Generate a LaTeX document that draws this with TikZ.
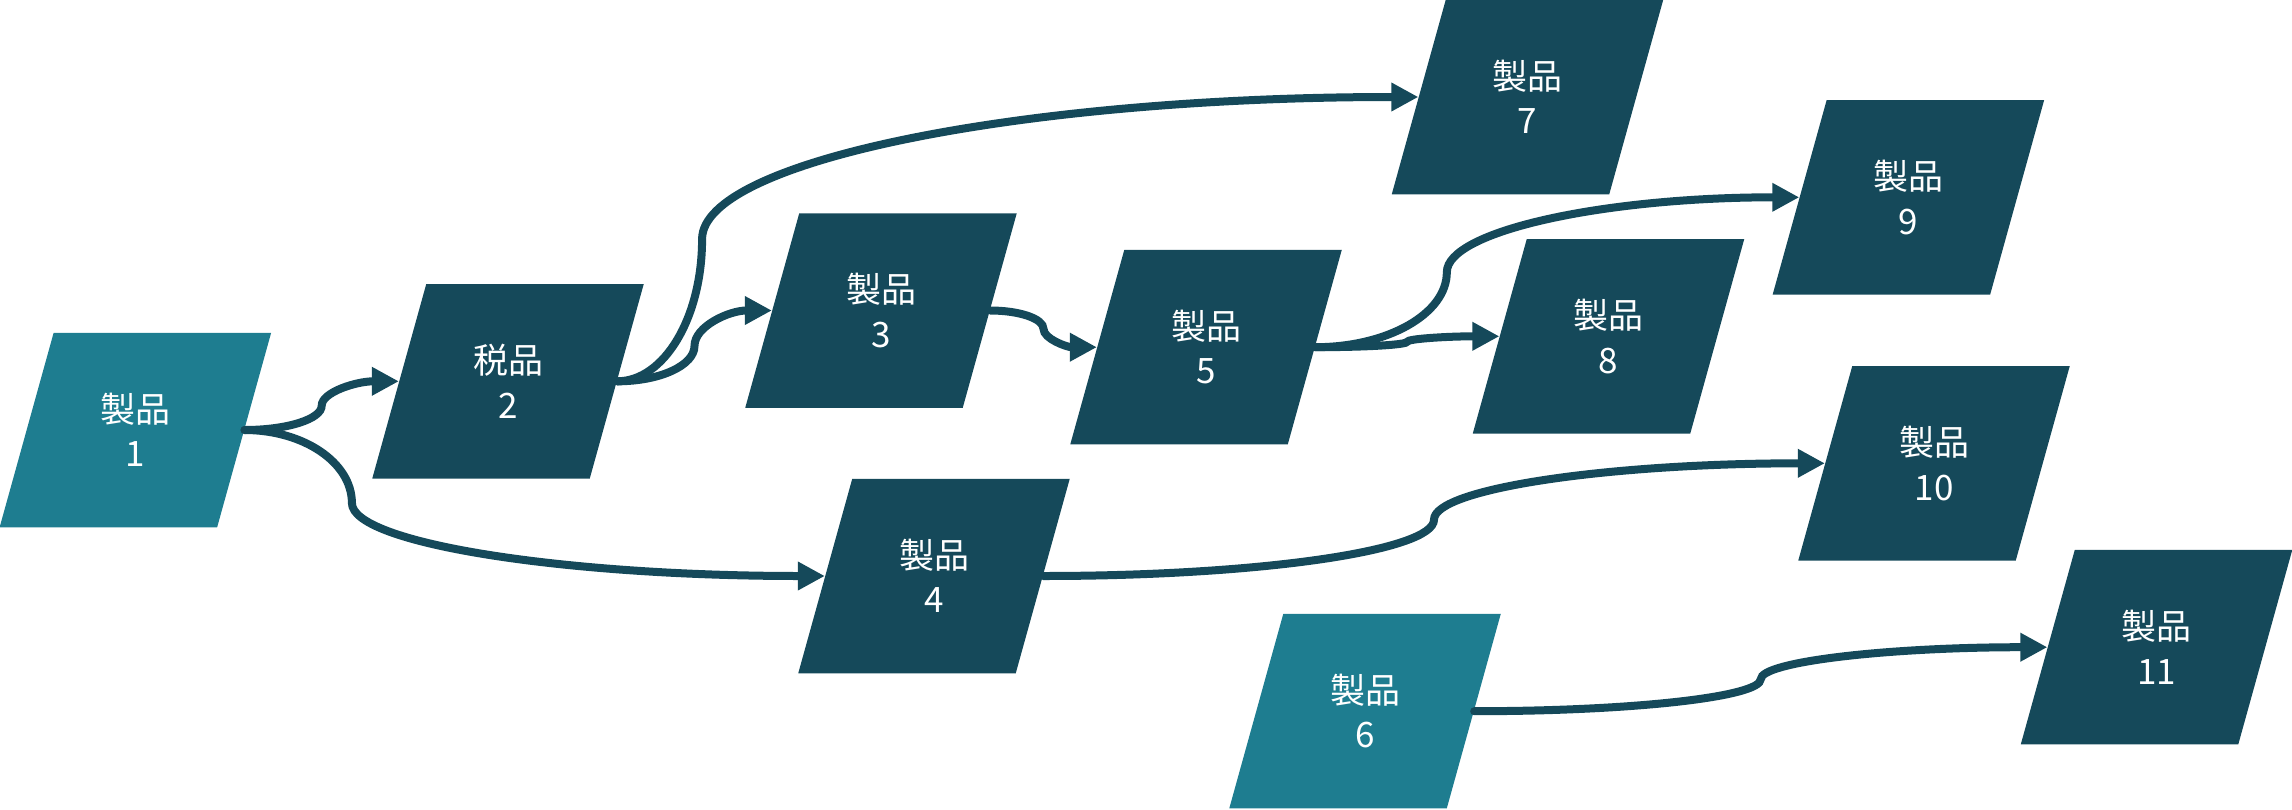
\documentclass[tikz,border=0pt]{standalone}
\usepackage{fontspec}
\newfontfamily\jpfont{Noto Sans CJK JP}
\usetikzlibrary{arrows.meta,calc}
\definecolor{pdark}{HTML}{15495A}
\definecolor{plight}{HTML}{1E7D90}
\tikzset{
  lbl/.style={inner sep=0pt, minimum width=108.75pt, text=white, align=center,
    font=\jpfont\fontsize{17.5pt}{22.25pt}\selectfont},
  conn/.style={draw=pdark, line width=4pt, line cap=round,
    -{Triangle[length=13.5pt,width=13.5pt]}},
}
\newcommand\prodnode[5]{%
  \fill[#4] (#2,#3) ++(-135.75,97.25) -- ++(217.5,0) -- ++(54,-194.5) -- ++(-217.5,0) -- cycle;
  \node[lbl] (#1) at (#2,#3) {#5};
}
\newcommand\flowline[3]{%
  \draw[conn] let \p1=(#1.east), \p2=(#2.west), \n1={#3},
    \p3=({\x1+\n1*(\x2-\x1)},{0.5*(\y1+\y2)}) in
    (\p1) .. controls ({\x1+0.5523*(\x3-\x1)},\y1) and (\x3,{\y3+0.5523*(\y1-\y3)}) .. (\p3)
    .. controls (\x3,{\y3+0.5523*(\y2-\y3)}) and ({\x2-0.5523*(\x2-\x3)},\y2) .. (\p2);
}
\begin{document}
\begin{tikzpicture}[x=0.5pt,y=-0.5pt]
\useasboundingbox (0,0) rectangle (2292,809);
\clip (0,0) rectangle (2292,809);
\prodnode{n1}{135.4}{430}{plight}{製品\\1}
\prodnode{n2}{508}{381.3}{pdark}{税品\\2}
\prodnode{n3}{881}{310.5}{pdark}{製品\\3}
\prodnode{n4}{934}{576}{pdark}{製品\\4}
\prodnode{n5}{1206}{347.2}{pdark}{製品\\5}
\prodnode{n6}{1365}{711.2}{plight}{製品\\6}
\prodnode{n7}{1527.5}{97}{pdark}{製品\\7}
\prodnode{n8}{1608.5}{336.3}{pdark}{製品\\8}
\prodnode{n9}{1908.4}{197.3}{pdark}{製品\\9}
\prodnode{n10}{1934}{463.3}{pdark}{製品\\10}
\prodnode{n11}{2156.5}{647.2}{pdark}{製品\\11}
\flowline{n1}{n2}{0.5}
\flowline{n1}{n4}{0.185}
\flowline{n2}{n3}{0.5}
\flowline{n2}{n7}{0.106}
\flowline{n3}{n5}{0.5}
\flowline{n5}{n9}{0.272}
\flowline{n5}{n8}{0.5}
\flowline{n4}{n10}{0.5}
\flowline{n6}{n11}{0.5}
\end{tikzpicture}
\end{document}
